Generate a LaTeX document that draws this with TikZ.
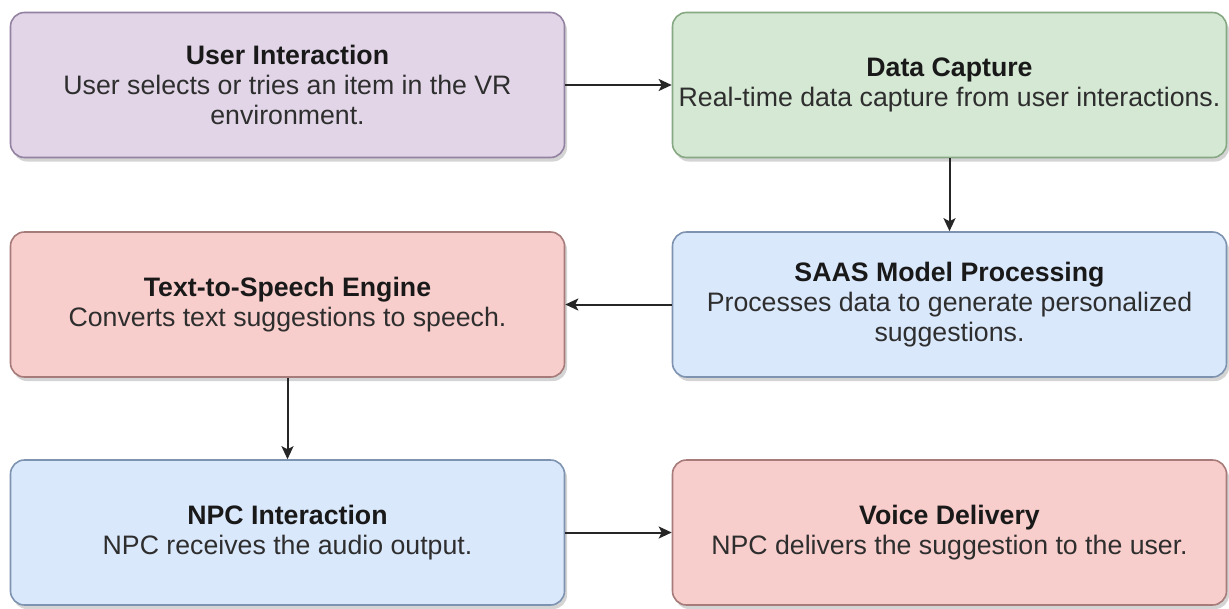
\documentclass[tikz,border=0pt]{standalone}
\usepackage{fontspec}
\setmainfont{Liberation Sans}
\usetikzlibrary{arrows.meta,shadows}
\definecolor{purplefill}{HTML}{E1D5E7}
\definecolor{purpleline}{HTML}{9482A2}
\definecolor{greenfill}{HTML}{D5E8D4}
\definecolor{greenline}{HTML}{86A883}
\definecolor{bluefill}{HTML}{DAE8FC}
\definecolor{blueline}{HTML}{7E93B0}
\definecolor{redfill}{HTML}{F8CECC}
\definecolor{redline}{HTML}{A67B79}
\definecolor{bodytext}{HTML}{2E2E2E}
\definecolor{arrowgray}{HTML}{262626}
\tikzset{
  stagebox/.style={rectangle, rounded corners=14pt, line width=1.6pt,
    minimum width=554pt, minimum height=145pt, inner sep=2pt,
    align=center, text=bodytext,
    font=\fontsize{26.7}{30}\selectfont,
    drop shadow={shadow xshift=2.5pt, shadow yshift=-4pt, opacity=0.3, fill=black!55}},
  purplebox/.style={stagebox, fill=purplefill, draw=purpleline},
  greenbox/.style={stagebox, fill=greenfill, draw=greenline},
  bluebox/.style={stagebox, fill=bluefill, draw=blueline},
  redbox/.style={stagebox, fill=redfill, draw=redline},
  flow/.style={draw=arrowgray, line width=2pt,
    -{Stealth[length=13pt, width=12pt, inset=3pt]}}
}
\newcommand{\stagetitle}[1]{{\color{black!90}\bfseries #1}}
\begin{document}
\begin{tikzpicture}[x=1pt, y=1pt]
  \useasboundingbox (0,0) rectangle (1229,-608);
  \fill[white] (0,0) rectangle (1229,-608);

  \node[purplebox] (user) at (287.5,-85)
    {\stagetitle{User Interaction}\\User selects or tries an item in the VR\\environment.};
  \node[greenbox] (capture) at (949.5,-85)
    {\stagetitle{Data Capture}\\Real-time data capture from user interactions.};
  \node[bluebox] (saas) at (949.5,-304.5)
    {\stagetitle{SAAS Model Processing}\\Processes data to generate personalized\\suggestions.};
  \node[redbox] (tts) at (287.5,-304.5)
    {\stagetitle{Text-to-Speech Engine}\\Converts text suggestions to speech.};
  \node[bluebox] (npc) at (287.5,-532.5)
    {\stagetitle{NPC Interaction}\\NPC receives the audio output.};
  \node[redbox] (voice) at (949.5,-532.5)
    {\stagetitle{Voice Delivery}\\NPC delivers the suggestion to the user.};

  \draw[flow] (user) -- (capture);
  \draw[flow] (capture) -- (saas);
  \draw[flow] (saas) -- (tts);
  \draw[flow] (tts) -- (npc);
  \draw[flow] (npc) -- (voice);
\end{tikzpicture}
\end{document}
